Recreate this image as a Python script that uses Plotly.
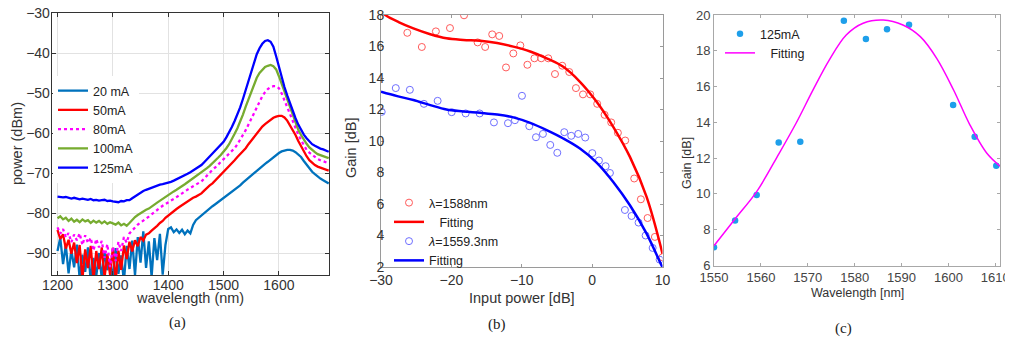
import plotly.graph_objects as go

# ---------------- Panel (a): spectra ----------------
wl = list(range(1200, 1695, 5))

p20 = [-89.5, -86.2, -92.8, -88.0, -95.1, -89.3, -93.6, -87.9, -96.5, -90.4,
       -94.7, -88.6, -97.0, -91.2, -95.8, -90.0, -96.4, -89.7, -94.3, -91.5,
       -96.8, -88.8, -95.2, -90.6, -97.1, -88.2, -94.0, -86.9, -95.6, -86.0,
       -92.4, -84.6, -93.7, -87.1, -96.0, -86.3, -91.8, -85.2, -95.4, -88.0,
       -84.0, -83.6, -84.8, -84.1, -85.0, -84.2, -85.3, -84.4, -85.1, -83.0,
       -81.8, -81.2, -80.6, -79.9, -79.3, -78.8, -78.3, -77.8, -77.3, -76.8,
       -76.3, -75.8, -75.3, -74.8, -74.3, -73.7, -73.1, -72.4, -71.8, -71.2,
       -70.5, -69.9, -69.3, -68.7, -68.2, -67.7, -67.2, -66.6, -66.1, -65.5,
       -65.0, -64.6, -64.3, -64.2, -64.2, -64.4, -64.8, -65.3, -66.0, -67.0,
       -68.0, -68.9, -69.7, -70.3, -70.9, -71.4, -71.8, -72.2, -72.6]

p50 = [-84.2, -86.5, -85.3, -88.9, -86.7, -90.2, -87.4, -92.5, -88.0, -96.5,
       -89.1, -93.8, -88.2, -96.8, -89.5, -94.0, -88.6, -96.2, -90.3, -95.5,
       -88.7, -97.0, -89.4, -94.2, -88.1, -91.5, -87.2, -89.6, -86.8, -88.3,
       -86.0, -86.9, -85.4, -85.1, -84.4, -83.9, -83.2, -82.5, -82.0, -81.2,
       -80.6, -80.0, -79.6, -79.0, -78.5, -78.0, -77.5, -77.0, -76.6, -76.2,
       -75.9, -75.5, -75.1, -74.4, -73.7, -73.1, -72.6, -71.9, -71.1, -70.4,
       -69.7, -69.0, -68.3, -67.5, -66.8, -66.0, -65.3, -64.5, -63.8, -62.8,
       -61.9, -60.9, -60.0, -59.2, -58.4, -57.8, -57.2, -56.7, -56.2, -55.9,
       -55.7, -55.7, -56.1, -56.9, -58.0, -59.2, -60.5, -62.0, -63.4, -64.7,
       -65.8, -66.8, -67.5, -68.0, -68.4, -68.7, -69.0, -69.2, -69.4]

p80 = [-83.6, -85.2, -84.0, -86.1, -85.0, -87.3, -85.4, -86.8, -85.1, -88.0,
       -85.6, -87.5, -86.2, -89.4, -86.5, -88.6, -87.0, -91.2, -87.8, -93.5,
       -88.4, -92.0, -87.2, -89.5, -86.0, -87.4, -85.1, -84.3, -83.6, -82.9,
       -82.4, -81.8, -81.4, -80.9, -80.3, -79.8, -79.3, -78.7, -78.2, -77.7,
       -77.3, -76.9, -76.5, -76.1, -75.6, -75.1, -74.6, -74.1, -73.7, -73.3,
       -72.9, -72.5, -72.1, -71.4, -70.6, -69.9, -69.2, -68.6, -67.9, -67.3,
       -66.7, -66.0, -65.3, -64.6, -63.8, -62.8, -61.7, -60.5, -59.3, -57.9,
       -56.4, -54.9, -53.4, -52.0, -50.8, -49.8, -49.0, -48.5, -48.3, -48.3,
       -48.8, -50.1, -51.8, -53.7, -55.5, -57.2, -58.8, -60.4, -61.8, -63.1,
       -64.2, -64.9, -65.5, -66.0, -66.5, -66.8, -67.1, -67.4, -67.6]

p100 = [-81.3, -80.8, -81.6, -81.2, -82.0, -81.4, -82.2, -81.7, -82.3, -81.6,
        -82.1, -81.8, -82.5, -81.9, -82.4, -82.0, -82.6, -82.1, -82.7, -82.3,
        -82.6, -82.9, -82.4, -83.1, -82.7, -83.2, -82.5, -81.6, -81.0, -80.5,
        -80.0, -79.5, -79.2, -78.9, -78.3, -77.9, -77.4, -76.9, -76.4, -75.9,
        -75.5, -75.1, -74.6, -74.2, -73.8, -73.3, -72.8, -72.3, -71.8, -71.3,
        -70.8, -70.4, -70.0, -69.4, -68.8, -68.2, -67.6, -66.9, -66.2, -65.5,
        -64.7, -63.8, -62.8, -61.6, -60.2, -58.8, -57.2, -55.4, -53.4, -51.5,
        -49.6, -47.8, -46.2, -45.0, -44.1, -43.5, -43.2, -43.0, -43.3, -44.1,
        -45.8, -47.7, -49.7, -51.8, -53.8, -55.8, -57.6, -59.2, -60.5, -61.7,
        -62.7, -63.6, -64.3, -64.8, -65.3, -65.6, -65.9, -66.1, -66.3]

p125 = [-75.9, -76.0, -76.1, -76.0, -76.3, -76.4, -76.2, -76.5, -76.6, -76.4,
        -76.6, -76.7, -76.5, -76.8, -76.7, -76.9, -76.8, -76.7, -77.0, -76.9,
        -77.1, -77.2, -77.3, -77.0, -77.1, -76.8, -76.8, -76.3, -75.8, -75.3,
        -74.9, -74.5, -74.2, -73.9, -73.6, -73.3, -73.1, -72.9, -72.8, -72.6,
        -72.5, -72.2, -71.9, -71.6, -71.3, -71.0, -70.6, -70.2, -69.8, -69.4,
        -69.0, -68.5, -68.0, -67.3, -66.6, -65.9, -65.2, -64.5, -63.8, -63.0,
        -62.2, -61.1, -59.9, -58.5, -57.0, -55.4, -53.6, -51.5, -49.2, -46.8,
        -44.5, -42.2, -40.3, -38.8, -37.7, -37.0, -36.8, -37.2, -38.4, -40.8,
        -43.6, -46.2, -48.5, -50.6, -52.6, -54.5, -56.3, -57.9, -59.3, -60.4,
        -61.3, -62.1, -62.8, -63.2, -63.6, -63.9, -64.1, -64.4, -64.7]

spec_names = ["20 mA", "50mA", "80mA", "100mA", "125mA"]
spec_colors = ["#0072BD", "#FF0000", "#FF00FF", "#77AC30", "#0000FF"]
spec_dash = ["solid", "solid", "dot", "solid", "solid"]
spec_data = [p20, p50, p80, p100, p125]

# ---------------- Panel (b): gain vs input power ----------------
pin_1588 = [-26.26, -24.2, -22.2, -20.2, -18.2, -16.27, -15.2, -14.2, -13.2, -12.24,
            -11.2, -10.2, -9.2, -8.2, -7.23, -6.23, -5.28, -4.25, -3.25, -2.3,
            -1.3, -0.27, 0.72, 1.77, 2.71, 3.66, 4.70, 5.98, 6.93, 7.88, 8.92, 10.0]
gain_1588 = [16.87, 15.97, 16.96, 17.17, 17.98, 16.26, 15.97, 16.77, 16.67, 14.67,
             15.56, 16.07, 14.84, 15.25, 15.25, 15.25, 14.25, 14.78, 14.38, 13.36,
             12.96, 12.96, 12.36, 11.66, 11.18, 10.52, 10.03, 7.62, 6.30, 5.11, 3.91, 2.62]
pin_1559 = [-29.9, -27.9, -25.9, -23.9, -21.95, -19.96, -17.97, -15.98, -13.95, -11.96,
            -10.97, -9.97, -8.93, -7.98, -6.99, -5.95, -4.95, -3.96, -2.97, -1.97,
            -0.98, 0.02, 0.97, 1.92, 2.53, 4.66, 5.6, 6.6, 7.6, 8.6, 9.59]
gain_1559 = [11.85, 13.36, 13.25, 12.36, 12.55, 11.83, 11.75, 11.75, 11.18, 11.13,
             11.32, 12.87, 10.94, 10.24, 10.45, 9.75, 9.25, 10.56, 10.33, 10.45,
             10.22, 9.23, 8.76, 8.40, 7.97, 5.62, 5.24, 4.82, 4.00, 3.21, 2.47]
fit_pin_1588 = [-30.0, -29.4, -27.5, -25.4, -23.0, -20.7, -18.3, -15.9, -13.5, -11.2,
                -8.8, -6.46, -4.1, -1.73, 0.64, 3.0, 5.37, 7.74, 10.0]
fit_gain_1588 = [18.25, 18.0, 17.55, 17.15, 16.78, 16.52, 16.42, 16.37, 16.22, 15.99,
                 15.68, 15.25, 14.71, 13.76, 12.49, 10.9, 8.99, 6.45, 2.85]
fit_pin_1559 = [-30.0, -27.7, -25.4, -23.0, -20.7, -18.3, -15.9, -13.5, -11.2, -8.8,
                -6.46, -4.1, -1.73, 0.64, 3.0, 5.37, 7.74, 9.87, 10.0]
fit_gain_1559 = [13.13, 12.85, 12.6, 12.28, 12.0, 11.88, 11.79, 11.68, 11.5, 11.15,
                 10.69, 10.16, 9.52, 8.63, 7.4, 5.92, 4.12, 2.1, 2.0]

# ---------------- Panel (c): gain vs wavelength ----------------
wl_c = [1550.0, 1554.5, 1559.1, 1563.8, 1568.4, 1577.7, 1582.4, 1586.9, 1591.6, 1601.0, 1605.6, 1610.2]
gain_c = [7.02, 8.51, 9.94, 12.87, 12.92, 19.68, 18.66, 19.20, 19.46, 14.97, 13.20, 11.58]
fit_wl_c = [1550.0, 1554.6, 1559.1, 1563.9, 1567.5, 1571.1, 1574.6, 1578.2, 1581.8, 1586.1,
            1590.3, 1594.0, 1597.5, 1601.1, 1604.6, 1608.2, 1611.0]
fit_gain_c = [7.1, 8.64, 10.13, 12.27, 13.95, 15.8, 17.49, 18.88, 19.54, 19.72,
              19.44, 18.79, 17.58, 15.81, 13.85, 12.27, 11.55]

# page body has an 8px margin: lay out in reference pixel coords shifted by it
OFF = 8
W, H = 1013 - OFF, 340 - OFF
def px(x): return (x - OFF) / W
def py(y): return 1 - (y - OFF) / H

fig = go.Figure()

for name, col, dash, ys in zip(spec_names, spec_colors, spec_dash, spec_data):
    fig.add_trace(go.Scatter(x=wl, y=ys, mode="lines", name=name,
                             line=dict(color=col, width=2.3, dash=dash),
                             xaxis="x", yaxis="y", legend="legend"))

fig.add_trace(go.Scatter(x=pin_1588, y=gain_1588, mode="markers", name="λ=1588nm",
                         marker=dict(symbol="circle-open", size=7, color="rgb(255,90,90)",
                                     line=dict(width=1)),
                         xaxis="x2", yaxis="y2", legend="legend2"))
fig.add_trace(go.Scatter(x=fit_pin_1588, y=fit_gain_1588, mode="lines",
                         name="\u00a0\u00a0\u00a0Fitting", line=dict(color="#FF0000", width=2.5, shape="spline"),
                         xaxis="x2", yaxis="y2", legend="legend2"))
fig.add_trace(go.Scatter(x=pin_1559, y=gain_1559, mode="markers", name="<i>λ</i>=1559.3nm",
                         marker=dict(symbol="circle-open", size=7, color="rgb(110,110,255)",
                                     line=dict(width=1)),
                         xaxis="x2", yaxis="y2", legend="legend2"))
fig.add_trace(go.Scatter(x=fit_pin_1559, y=fit_gain_1559, mode="lines",
                         name="Fitting", line=dict(color="#0000FF", width=2.5, shape="spline"),
                         xaxis="x2", yaxis="y2", legend="legend2"))

fig.add_trace(go.Scatter(x=wl_c, y=gain_c, mode="markers", name="125mA",
                         marker=dict(symbol="circle", size=6.5, color="#1E9FEA"),
                         xaxis="x3", yaxis="y3", legend="legend3"))
fig.add_trace(go.Scatter(x=fit_wl_c, y=fit_gain_c, mode="lines",
                         name="\u00a0\u00a0\u00a0Fitting", line=dict(color="#FF00FF", width=1.5, shape="spline"),
                         xaxis="x3", yaxis="y3", legend="legend3"))

tickfont = dict(family="Arial, Liberation Sans, sans-serif", size=14, color="#333333")
tickfont_c = dict(family="Arial, Liberation Sans, sans-serif", size=13, color="#444444")

common_a = dict(showline=True, mirror="ticks", linecolor="#333333", linewidth=1,
                ticks="inside", ticklen=4, tickcolor="#333333", zeroline=False, automargin=False,
                ticklabeloverflow="allow",
                showgrid=True, gridcolor="#E2E2E2", gridwidth=1, tickfont=tickfont)
common_b = dict(showline=True, mirror="ticks", linecolor="#9A9A9A", linewidth=1,
                ticks="inside", ticklen=3, tickcolor="#9A9A9A", zeroline=False, automargin=False,
                ticklabeloverflow="allow", showgrid=False, tickfont=tickfont)
common_c = dict(showline=True, mirror="ticks", linecolor="#A8A8A8", linewidth=1,
                ticks="inside", ticklen=3, tickcolor="#A8A8A8", zeroline=False, automargin=False,
                ticklabeloverflow="allow", showgrid=False, tickfont=tickfont_c)

fig.update_layout(
    width=W, height=H, margin=dict(l=0, r=0, t=0, b=0, autoexpand=False),
    paper_bgcolor="white", plot_bgcolor="white",
    font=dict(family="Arial, Liberation Sans, sans-serif", color="#333333"),
    xaxis=dict(domain=[px(51.7), px(329)], range=[1189.5, 1690.5], tickvals=[1200, 1300, 1400, 1500, 1600],
               anchor="y", ticklabelstandoff=-3, **common_a),
    yaxis=dict(domain=[py(275), py(13)], range=[-95.5, -30], tickvals=[-90, -80, -70, -60, -50, -40, -30],
               anchor="x", ticklabelstandoff=-2, **common_a),
    xaxis2=dict(domain=[px(381), px(662.5)], range=[-30, 10], tickvals=[-30, -20, -10, 0, 10],
                anchor="y2", **common_b),
    yaxis2=dict(domain=[py(267), py(15)], range=[2, 18], tickvals=[2, 4, 6, 8, 10, 12, 14, 16, 18],
                anchor="x2", ticklabelstandoff=-7, **common_b),
    xaxis3=dict(domain=[px(714), px(1000)], range=[1550, 1611], tickvals=[1550, 1560, 1570, 1580, 1590, 1600, 1610],
                anchor="y3", **common_c),
    yaxis3=dict(domain=[py(265.5), py(15)], range=[6, 20], tickvals=[6, 8, 10, 12, 14, 16, 18, 20],
                anchor="x3", **common_c),
    legend=dict(x=px(53), y=py(76), xanchor="left", yanchor="top", bgcolor="white",
                font=dict(size=12.5, color="#222222"), itemwidth=30, tracegroupgap=0),
    legend2=dict(x=px(389), y=py(188), xanchor="left", yanchor="top", bgcolor="rgba(0,0,0,0)",
                 font=dict(size=12.5, color="#222222"), itemwidth=30),
    legend3=dict(x=px(720), y=py(19), xanchor="left", yanchor="top", bgcolor="rgba(0,0,0,0)",
                 font=dict(size=12.5, color="#222222"), itemwidth=30),
    showlegend=True,
)

annots = [
    dict(text="wavelength (nm)", x=px(190), y=py(298), size=14.5, angle=0),
    dict(text="power (dBm)", x=px(17), y=py(144), size=14.5, angle=-90),
    dict(text="Input power [dB]", x=px(522), y=py(298), size=14.5, angle=0),
    dict(text="Gain [dB]", x=px(351), y=py(148), size=14.5, angle=-90),
    dict(text="Wavelength [nm]", x=px(857), y=py(293), size=12.5, angle=0),
    dict(text="Gain [dB]", x=px(687), y=py(163), size=12.5, angle=-90),
]
for a in annots:
    fig.add_annotation(text=a["text"], x=a["x"], y=a["y"], xref="paper", yref="paper",
                       showarrow=False, textangle=a["angle"], xanchor="center", yanchor="middle",
                       font=dict(family="Arial, Liberation Sans, sans-serif", size=a["size"], color="#333333"))

for t, x, y in [("(a)", 177, 322), ("(b)", 497, 324), ("(c)", 843, 328)]:
    fig.add_annotation(text=t, x=px(x), y=py(y), xref="paper", yref="paper", showarrow=False,
                       xanchor="center", yanchor="middle",
                       font=dict(family="Liberation Serif, Times New Roman, serif", size=15, color="#222222"))

fig.write_html("out.html")
